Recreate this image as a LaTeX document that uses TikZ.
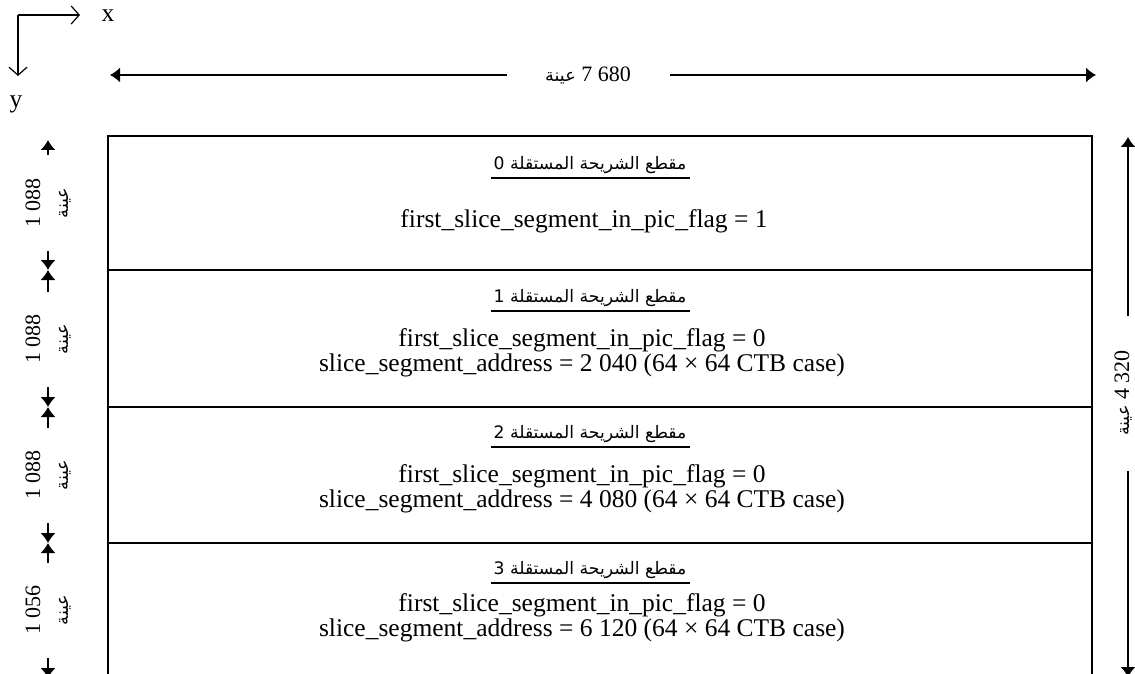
\documentclass[tikz,border=0pt]{standalone}
\usepackage{fontspec}
\setmainfont{Liberation Serif}
\newfontfamily\arabicfont[Script=Arabic,Scale=0.8]{DejaVu Sans}
\TeXXeTstate=1
\usetikzlibrary{arrows.meta}

% Arabic run, set right to left
\newcommand{\artxt}[1]{{\arabicfont\beginR #1\endR}}

\begin{document}
\begin{tikzpicture}[x=1pt,y=-1pt,
  tip/.tip={Latex[length=10pt,width=15pt]},
  frame/.style={line width=1.8pt},
  divider/.style={line width=1.5pt},
  dimline/.style={line width=1.3pt,{tip}-{tip}},
  axis/.style={line width=1.2pt,-{Straight Barb[length=8pt,width=18pt,line width=1.2pt]}},
  dimlabel/.style={fill=white,inner sep=0pt,align=center,
    font=\fontsize{22}{28}\selectfont},
  vlabel/.style={dimlabel,rotate=90,minimum width=95pt,minimum height=58pt},
  head/.style={inner xsep=3pt,inner ysep=4pt,font=\fontsize{21.5}{24}\selectfont},
  body/.style={inner sep=0pt,align=center,font=\fontsize{25.5}{25}\selectfont},
  uline/.style={line width=1.4pt},
]
\useasboundingbox (0,0) rectangle (1135,674);

% coordinate axes
\coordinate (o) at (18,15);
\coordinate (ox) at (80,15);
\coordinate (oy) at (18,76);
\draw[axis] (o) -- (ox);
\draw[axis] (o) -- (oy);
\node[body] (xl) at (108,16) {x};
\node[body] (yl) at (16,104) {y};

% picture width
\coordinate (wl) at (110,75);
\coordinate (wr) at (1096,75);
\draw[dimline] (wl) -- (wr);
\node[dimlabel,minimum width=163pt,minimum height=30pt] (wlab) at (588,75)
  {\artxt{عينة} 7 680};

% picture height
\coordinate (ht) at (1128,137);
\coordinate (hb) at (1128,677);
\draw[dimline] (ht) -- (hb);
\node[dimlabel,rotate=90,minimum width=155pt,minimum height=26pt] (hlab) at (1123,393)
  {\artxt{عينة} 4 320};

% slice segment frame
\draw[frame] (108,136) rectangle (1092,678);
\coordinate (d1l) at (108,270); \coordinate (d1r) at (1092,270);
\coordinate (d2l) at (108,407); \coordinate (d2r) at (1092,407);
\coordinate (d3l) at (108,543); \coordinate (d3r) at (1092,543);
\draw[divider] (d1l) -- (d1r);
\draw[divider] (d2l) -- (d2r);
\draw[divider] (d3l) -- (d3r);

% segment heights
\coordinate (s0) at (48,140);
\coordinate (s1) at (48,270);
\coordinate (s2) at (48,407);
\coordinate (s3) at (48,543);
\coordinate (s4) at (48,678);
\draw[dimline] (s0) -- (s1);
\draw[dimline] (s1) -- (s2);
\draw[dimline] (s2) -- (s3);
\draw[dimline] (s3) -- (s4);
\node[vlabel] (l0) at (48,203) {1 088\\\artxt{عينة}};
\node[vlabel] (l1) at (48,339) {1 088\\\artxt{عينة}};
\node[vlabel] (l2) at (48,475) {1 088\\\artxt{عينة}};
\node[vlabel] (l3) at (48,610) {1 056\\\artxt{عينة}};

% segment 0
\node[head] (h0) at (590,165) {\artxt{مقطع الشريحة المستقلة 0}};
\draw[uline] (h0.south west) -- (h0.south east);
\node[body] (b0) at (584,221) {first\_slice\_segment\_in\_pic\_flag = 1};

% segment 1
\node[head] (h1) at (590,298) {\artxt{مقطع الشريحة المستقلة 1}};
\draw[uline] (h1.south west) -- (h1.south east);
\node[body] (b1) at (582,353) {first\_slice\_segment\_in\_pic\_flag = 0\\
  slice\_segment\_address = 2 040 (64 × 64 CTB case)};

% segment 2
\node[head] (h2) at (590,434) {\artxt{مقطع الشريحة المستقلة 2}};
\draw[uline] (h2.south west) -- (h2.south east);
\node[body] (b2) at (582,489) {first\_slice\_segment\_in\_pic\_flag = 0\\
  slice\_segment\_address = 4 080 (64 × 64 CTB case)};

% segment 3
\node[head] (h3) at (590,570) {\artxt{مقطع الشريحة المستقلة 3}};
\draw[uline] (h3.south west) -- (h3.south east);
\node[body] (b3) at (582,618) {first\_slice\_segment\_in\_pic\_flag = 0\\
  slice\_segment\_address = 6 120 (64 × 64 CTB case)};
\end{tikzpicture}
\end{document}
